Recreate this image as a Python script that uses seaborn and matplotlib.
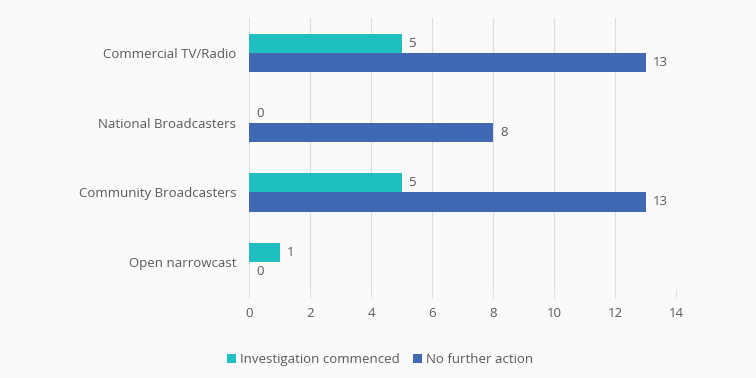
import matplotlib
matplotlib.use("Agg")
import matplotlib.pyplot as plt
import seaborn as sns
import pandas as pd

categories = ["Commercial TV/Radio", "National Broadcasters", "Community Broadcasters", "Open narrowcast"]
investigation = [5, 0, 5, 1]
no_action = [13, 8, 13, 0]
series = ["Investigation commenced", "No further action"]
colors = ["#1fbec0", "#4169b3"]

df = pd.DataFrame({
    "category": categories * 2,
    "series": [series[0]] * 4 + [series[1]] * 4,
    "value": investigation + no_action,
})

sns.set_theme(style="white")
plt.rcParams["font.family"] = ["Open Sans", "DejaVu Sans"]
txt = "#595959"

fig = plt.figure(figsize=(7.56, 3.78), dpi=100, facecolor="#fafafa")
ax = fig.add_axes([249 / 756, 1 - 290 / 378, 427 / 756, 272 / 378])
ax.set_facecolor("#fafafa")

sns.barplot(df, x="value", y="category", hue="series", hue_order=series,
            palette=colors, orient="h", width=0.55, saturation=1, linewidth=0,
            ax=ax, zorder=3)

for c in ax.containers:
    ax.bar_label(c, padding=5, fontsize=9.5, color=txt)

ax.set_xlim(0, 14)
ax.set_ylim(3.4, -0.5)
ax.set_xticks(range(0, 15, 2))
ax.grid(visible=True, axis="x", color="#dcdcdc", linewidth=0.8, zorder=0)
ax.grid(visible=False, axis="y")
for s in ax.spines.values():
    s.set_visible(False)
ax.tick_params(axis="x", bottom=True, length=6, width=0.8, color="#dcdcdc",
               labelsize=9.5, labelcolor=txt, pad=6)
ax.tick_params(axis="y", left=False, labelsize=9.5, labelcolor=txt, pad=3)
ax.set_xlabel("")
ax.set_ylabel("")

sns.move_legend(ax, loc="lower left", bbox_to_anchor=(215 / 756, 0.0),
                bbox_transform=fig.transFigure, ncols=2, title="", frameon=False,
                fontsize=9.5, handlelength=0.7, handleheight=0.7, handletextpad=0.3,
                columnspacing=1.0, labelcolor=txt)

fig.savefig("out.png", dpi=100, facecolor=fig.get_facecolor())
